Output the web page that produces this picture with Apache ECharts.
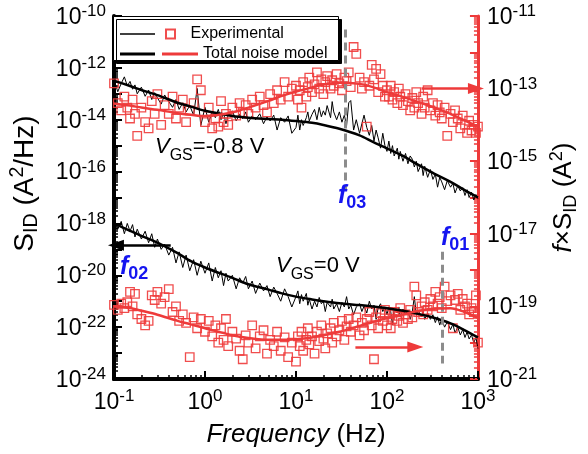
<!DOCTYPE html>
<html>
<head>
<meta charset="utf-8">
<script src="https://cdn.jsdelivr.net/npm/echarts@6/dist/echarts.min.js"></script>
<style>
html,body{margin:0;padding:0;background:#fff;}
#chart{width:588px;height:454px;}
</style>
</head>
<body>
<div id="chart"></div>
<script>
// ---------- data ----------
const freq = [
  0.1,0.11,0.12,0.13,0.14,0.15,0.16,0.17,0.18,0.2,0.22,0.24,0.26,0.28,0.3,0.33,0.36,0.4,0.44,0.48,0.52,0.57,0.62,0.68,0.75,0.82,0.9,
  1,1.1,1.2,1.3,1.4,1.5,1.6,1.7,1.8,2,2.2,2.4,2.6,2.8,3,3.3,3.6,4,4.4,4.8,5.2,5.7,6.2,6.8,7.5,8.2,9,
  10,10.5,11,11.5,12,13,13.5,14,15,16,17,18,19,20,21,22,24,25,26,28,30,32,34,36,38,40,43,46,50,53,56,60,64,68,72,76,80,85,90,95,
  100,105,110,115,120,130,135,140,150,160,170,180,190,200,210,220,240,250,260,280,300,320,340,360,380,400,430,460,500,530,560,600,640,680,720,760,800,850,900,950,1000
];
// S_ID, VGS = -0.8 V (A^2/Hz)
const sidNeg08 = [
  3.5e-13,1.2e-13,2.5e-13,4.5e-13,2.0e-13,3.0e-13,1.5e-13,2.2e-13,1.0e-13,1.8e-13,8.0e-14,1.4e-13,6.0e-14,1.1e-13,7.0e-14,4.0e-14,9.0e-14,5.0e-14,3.0e-14,6.0e-14,2.5e-14,4.5e-14,2.0e-14,3.5e-14,1.5e-14,1.6e-13,6.0e-15,
  3.0e-14,8.0e-15,2.0e-14,1.2e-14,2.5e-14,1.0e-14,1.8e-14,7.0e-15,1.5e-14,2.2e-14,9.0e-15,1.6e-14,1.1e-14,2.0e-14,8.0e-15,1.4e-14,1.0e-14,1.7e-14,7.0e-15,1.3e-14,9.0e-15,1.5e-14,4.0e-15,1.2e-14,8.0e-15,1.4e-14,3.0e-15,
  5.0e-15,1.5e-14,4.0e-15,1.0e-14,6.0e-15,1.2e-14,2.0e-14,9.0e-15,1.6e-14,2.5e-14,1.0e-14,3.0e-14,1.3e-14,2.2e-14,1.5e-14,3.5e-14,1.2e-14,5.0e-14,2.0e-14,1.0e-14,2.0e-14,8.0e-15,1.5e-14,6.0e-15,4.5e-14,5.5e-14,4.0e-15,1.0e-14,3.0e-15,7.0e-15,1.5e-14,5.0e-15,2.5e-15,6.0e-15,1.5e-15,4.0e-15,2.0e-15,8.0e-16,3.0e-15,1.0e-15,
  6.0e-16,1.5e-15,5.0e-16,1.0e-15,4.0e-16,8.0e-16,3.0e-16,6.0e-16,2.5e-16,5.0e-16,2.0e-16,4.0e-16,3.0e-16,1.5e-16,2.5e-16,1.0e-16,2.0e-16,7.0e-17,1.6e-16,6.0e-17,1.2e-16,5.0e-17,8.0e-17,2.5e-17,6.0e-17,4.0e-17,2.0e-17,4.5e-17,2.5e-17,3.5e-17,1.5e-17,2.8e-17,1.8e-17,2.4e-17,1.2e-17,2.0e-17,1.0e-17,1.6e-17,8.0e-18,1.3e-17,9.0e-18
];
// S_ID, VGS = 0 V (A^2/Hz)
const sid0 = [
  1.5e-18,6.0e-19,1.2e-18,4.0e-19,1.0e-18,5.0e-19,9.0e-19,3.0e-19,6.0e-19,2.5e-19,5.0e-19,1.8e-19,4.0e-19,1.2e-19,2.5e-19,1.0e-19,1.6e-19,6.0e-20,1.2e-19,3.0e-20,8.0e-20,2.0e-20,6.0e-20,1.5e-20,4.0e-20,1.0e-20,3.5e-20,
  1.2e-20,3.0e-20,6.0e-21,2.0e-20,8.0e-21,1.5e-20,4.0e-21,1.2e-20,6.0e-21,1.0e-20,3.0e-21,8.0e-21,5.0e-21,9.0e-21,3.0e-21,6.0e-21,2.0e-21,5.0e-21,2.5e-21,4.0e-21,1.5e-21,3.5e-21,2.0e-21,1.0e-21,3.0e-21,1.5e-21,6.0e-22,
  1.5e-21,2.5e-21,8.0e-22,1.8e-21,1.0e-21,2.0e-21,7.0e-22,1.2e-21,5.0e-22,1.0e-21,6.0e-22,1.4e-21,8.0e-22,1.0e-21,4.0e-22,9.0e-22,6.0e-22,1.2e-21,5.0e-22,8.0e-22,4.0e-22,9.0e-22,6.0e-22,1.5e-21,5.0e-22,7.0e-22,3.0e-22,6.0e-22,8.0e-22,4.0e-22,6.5e-22,3.5e-22,1.0e-21,5.0e-22,7.0e-22,2.0e-22,5.5e-22,8.0e-22,4.0e-22,6.0e-22,
  3.0e-22,6.0e-22,4.0e-22,1.2e-22,5.0e-22,3.5e-22,6.0e-22,2.5e-22,5.0e-22,3.0e-22,4.5e-22,2.0e-22,4.0e-22,1.5e-21,3.0e-22,4.5e-22,2.5e-22,4.0e-22,2.0e-22,3.5e-22,2.0e-22,3.0e-22,1.5e-22,2.5e-22,1.2e-22,2.0e-22,1.0e-22,1.6e-22,8.0e-23,1.3e-22,6.0e-23,1.0e-22,5.0e-23,8.0e-23,4.0e-23,6.5e-23,3.5e-23,5.0e-23,2.5e-23,4.0e-23,1.5e-23
];
// f x S_ID, VGS = -0.8 V (A^2)
const fSidNeg08 = [
  1.4e-13,4.0e-14,2.5e-14,6.0e-14,3.0e-14,1.5e-14,5.0e-14,2.0e-14,5.0e-15,3.0e-14,1.2e-14,8.0e-15,4.5e-14,2.0e-14,7.0e-14,1.0e-14,3.5e-14,2.0e-14,6.0e-14,1.5e-14,3.0e-14,5.0e-14,1.2e-14,2.5e-14,4.0e-14,1.8e-13,9.0e-14,
  1.2e-14,3.0e-14,8.0e-15,1.5e-14,9.0e-15,4.5e-14,1.2e-14,2.0e-14,1.0e-14,3.0e-14,1.8e-14,4.0e-14,2.2e-14,3.5e-14,2.0e-14,5.0e-14,3.0e-14,6.0e-14,3.5e-14,2.2e-14,7.0e-14,4.0e-14,9.0e-14,5.0e-14,1.5e-13,6.0e-14,1.0e-13,
  1.2e-13,5.0e-14,9.0e-14,3.0e-14,1.5e-13,6.0e-14,1.1e-13,2.0e-13,8.0e-14,1.3e-13,2.8e-13,1.0e-13,1.8e-13,7.0e-14,1.5e-13,2.2e-13,1.0e-13,1.7e-13,1.2e-13,2.5e-13,1.4e-13,9.0e-14,2.0e-13,1.6e-13,2.8e-13,1.1e-13,1.4e-12,9.0e-13,2.0e-13,1.0e-13,1.5e-13,9.0e-15,1.2e-13,4.5e-13,1.8e-13,3.5e-13,8.0e-14,2.5e-13,1.2e-13,6.0e-14,
  9.0e-14,6.0e-14,1.2e-13,5.0e-14,8.0e-14,4.0e-14,1.0e-13,6.0e-14,3.5e-14,7.0e-14,4.5e-14,2.5e-14,5.5e-14,3.0e-14,8.0e-14,4.0e-14,2.0e-14,6.0e-14,3.0e-14,9.0e-14,2.5e-14,4.0e-14,1.8e-14,3.5e-14,2.2e-14,1.5e-14,3.0e-14,5.0e-15,2.0e-14,1.2e-14,2.5e-14,1.5e-14,8.0e-15,1.8e-14,1.0e-14,6.0e-15,1.3e-14,7.0e-15,1.0e-14,6.0e-15,9.0e-15
];
// f x S_ID, VGS = 0 V (A^2)
const fSid0 = [
  1.1e-19,8.0e-20,1.2e-19,9.0e-20,1.3e-19,2.5e-19,1.0e-19,2.2e-19,6.0e-20,4.5e-20,3.0e-20,4.0e-20,2.0e-19,1.5e-19,2.5e-19,1.2e-19,1.8e-19,3.0e-19,7.0e-20,1.0e-19,4.0e-20,6.0e-20,3.5e-20,4.0e-21,5.0e-20,2.5e-20,4.5e-20,
  2.0e-20,4.0e-20,1.5e-20,3.0e-20,1.0e-20,2.5e-20,1.2e-20,4.5e-20,8.0e-21,2.0e-20,1.3e-20,6.0e-21,3.5e-21,1.6e-20,1.0e-20,3.0e-20,7.0e-21,1.5e-20,2.2e-20,5.0e-21,1.2e-20,8.0e-21,2.0e-20,6.0e-21,1.4e-20,4.0e-21,1.0e-20,
  3.0e-21,1.5e-20,8.0e-21,2.0e-20,6.0e-21,1.2e-20,2.5e-20,9.0e-21,1.5e-20,5.0e-21,2.0e-20,1.1e-20,3.0e-20,1.3e-20,7.0e-21,1.8e-20,2.5e-20,1.0e-20,3.5e-20,1.5e-20,2.2e-20,4.0e-20,1.2e-20,2.8e-20,4.5e-20,2.0e-20,3.0e-20,5.0e-20,1.6e-20,3.5e-20,2.2e-20,4.5e-20,7.0e-20,3.0e-20,3.5e-21,5.0e-20,2.5e-20,6.5e-20,4.0e-20,8.0e-20,
  3.0e-20,6.0e-20,2.5e-20,4.5e-20,7.0e-20,4.0e-20,5.5e-20,9.0e-20,3.5e-20,6.0e-20,4.5e-20,8.0e-20,5.0e-20,3.5e-19,2.0e-19,7.0e-20,1.0e-19,6.0e-20,1.3e-19,8.0e-20,1.6e-19,1.0e-19,2.5e-19,1.2e-19,1.8e-19,9.0e-20,3.5e-19,1.4e-19,2.0e-19,2.5e-20,1.5e-19,2.2e-19,8.0e-20,1.6e-19,1.0e-19,1.2e-19,6.0e-20,9.0e-20,7.0e-20,2.0e-19,1.0e-20
];
// total noise model curves
const fitFreq = [0.1,0.15,0.2,0.3,0.5,0.7,1,2,3,5,7,10,15,20,30,50,70,100,150,200,300,500,700,1000];
const fitSidNeg08 = [3.2e-13,2.0e-13,1.4e-13,8.9e-14,4.5e-14,3.2e-14,2.2e-14,1.4e-14,1.2e-14,1.07e-14,1.0e-14,8.9e-15,7.6e-15,6.3e-15,4.5e-15,2.5e-15,1.4e-15,7.9e-16,4.0e-16,2.2e-16,1.0e-16,4.0e-17,2.0e-17,1.0e-17];
const fitFSidNeg08 = [3.9e-14,3.4e-14,3.0e-14,2.6e-14,2.1e-14,1.9e-14,1.75e-14,2.2e-14,3.0e-14,4.6e-14,6.3e-14,8.3e-14,1.08e-13,1.3e-13,1.45e-13,1.35e-13,1.1e-13,8.0e-14,5.9e-14,4.6e-14,3.3e-14,2.0e-14,1.35e-14,9.0e-15];
const fitSid0 = [1.0e-18,5.2e-19,3.3e-19,1.8e-19,7.1e-20,3.5e-20,2.0e-20,7.9e-21,4.5e-21,2.8e-21,2.0e-21,1.5e-21,1.17e-21,1.0e-21,8.3e-22,7.1e-22,6.3e-22,5.4e-22,4.3e-22,3.5e-22,2.5e-22,1.4e-22,7.9e-23,4.0e-23];
const fitFSid0 = [1.0e-19,9.0e-20,7.6e-20,5.9e-20,4.0e-20,3.2e-20,2.5e-20,1.6e-20,1.35e-20,1.2e-20,1.2e-20,1.25e-20,1.4e-20,1.6e-20,2.0e-20,2.9e-20,3.7e-20,4.8e-20,6.0e-20,7.1e-20,8.5e-20,8.9e-20,7.1e-20,4.8e-20];

// tick values
const xMajor = [0.1,1,10,100,1000];
const xMinor = [0.2,0.3,0.4,0.5,0.6,0.7,0.8,0.9,2,3,4,5,6,7,8,9,20,30,40,50,60,70,80,90,200,300,400,500,600,700,800,900];
const yLeftLabels = [1e-24,1e-22,1e-20,1e-18,1e-16,1e-14,1e-12,1e-10];
const yLeftTicks = [1e-24,1e-23,1e-22,1e-21,1e-20,1e-19,1e-18,1e-17,1e-16,1e-15,1e-14,1e-13,1e-12,1e-11,1e-10];
const yRightLabels = [1e-21,1e-19,1e-17,1e-15,1e-13,1e-11];
const yRightTicks = [1e-21,1e-20,1e-19,1e-18,1e-17,1e-16,1e-15,1e-14,1e-13,1e-12,1e-11];
const mant = [2,3,4,5,6,7,8,9];
const yLeftMinor = [];
yLeftTicks.slice(0,-1).forEach(d => mant.forEach(m => yLeftMinor.push(+(m*d).toPrecision(3))));
const yRightMinor = [];
yRightTicks.slice(0,-1).forEach(d => mant.forEach(m => yRightMinor.push(+(m*d).toPrecision(3))));

// annotation anchors (data coordinates)
const f03Line = [[35, 3e-11], [35, 2e-17]];
const f01Line = [[410, 8e-20], [410, 4e-24]];
const arrowLeft0 = [[0.42, 1.45e-19], [0.105, 1.45e-19]];
const arrowRight08 = [[240, 1e-13], [950, 1e-13]];
const arrowRight0 = [[45, 7.6e-21], [205, 7.6e-21]];

// ---------- chart ----------
const F = '"Liberation Sans", Arial, Helvetica, sans-serif';
const RED = '#ee3a3a';
const zip = (xs, ys) => xs.map((x, i) => [x, ys[i]]);
const supFmt = v => '{b|10}{s|' + Math.round(Math.log10(v)) + '}';
const tickRich = {
  b: {fontSize: 23, fontFamily: F, color: '#000', lineHeight: 26, verticalAlign: 'bottom'},
  s: {fontSize: 17, fontFamily: F, color: '#000', verticalAlign: 'top'}
};
const titleRich = (size) => ({
  n: {fontSize: size, fontFamily: F, color: '#000', lineHeight: size + 6},
  i: {fontSize: size, fontFamily: F, color: '#000', fontStyle: 'italic', lineHeight: size + 6},
  sub: {fontSize: size * 0.7, fontFamily: F, color: '#000', verticalAlign: 'bottom'},
  sup: {fontSize: size * 0.7, fontFamily: F, color: '#000', verticalAlign: 'top'}
});
function arrowLine(pts, color) {
  return {
    silent: true, animation: false,
    symbol: ['none', 'triangle'], symbolSize: 12,
    label: {show: false},
    itemStyle: {color: color},
    lineStyle: {color: color, width: 2.5, type: 'solid'},
    data: [[{coord: pts[0]}, {coord: pts[1], symbolSize: [11, 16]}]]
  };
}
function dashLine(pts) {
  return {
    silent: true, animation: false,
    symbol: ['none', 'none'],
    label: {show: false},
    lineStyle: {color: '#8c8c8c', width: 3, type: [8, 5]},
    data: [[{coord: pts[0]}, {coord: pts[1]}]]
  };
}
const vRich = {
  v: {fontSize: 22, fontFamily: F, fontStyle: 'italic', fill: '#000', lineHeight: 28, verticalAlign: 'top'},
  g: {fontSize: 16, fontFamily: F, fill: '#000', verticalAlign: 'bottom'},
  t: {fontSize: 22, fontFamily: F, fill: '#000', lineHeight: 28, verticalAlign: 'top'}
};
const fRich = {
  f: {fontSize: 25, fontFamily: F, fontStyle: 'italic', fontWeight: 'bold', fill: '#1515f0', lineHeight: 28, verticalAlign: 'top'},
  n: {fontSize: 18, fontFamily: F, fontWeight: 'bold', fill: '#1515f0', verticalAlign: 'bottom'}
};
const legendText = {fontSize: 16, lineHeight: 16, fontFamily: F, color: '#000'};
const legendBase = {orient: 'vertical', selectedMode: false, z: 10, itemGap: 4, textStyle: legendText};

const chart = echarts.init(document.getElementById('chart'), null, {renderer: 'canvas'});
const option = {
  animation: false,
  backgroundColor: '#fff',
  grid: {left: 113, right: 100, top: 16, bottom: 75},
  legend: [
    Object.assign({}, legendBase, {id: 'lg1', left: 115, top: 21, itemWidth: 35, itemHeight: 1.3, formatter: () => ' ',
      data: [{name: 'Experimental (S_ID)', icon: 'rect'}]}),
    Object.assign({}, legendBase, {id: 'lg2', left: 115, top: 41, itemWidth: 35, itemHeight: 3, formatter: () => ' ',
      data: [{name: 'Total noise model (S_ID)', icon: 'rect'}]}),
    Object.assign({}, legendBase, {id: 'lg3', left: 160, top: 21, itemWidth: 30, itemHeight: 9,
      data: [{name: 'Experimental', icon: 'path://M0,0L10,0L10,10L0,10Z'}]}),
    Object.assign({}, legendBase, {id: 'lg4', left: 157, top: 41, itemWidth: 36, itemHeight: 3,
      data: [{name: 'Total noise model', icon: 'rect'}]})
  ],
  xAxis: [
    {type: 'log', logBase: 10, min: 0.1, max: 1000, position: 'bottom',
     axisLine: {lineStyle: {color: '#000', width: 4}},
     axisTick: {inside: true, length: 8, lineStyle: {color: '#000', width: 2}, customValues: xMajor},
     axisLabel: {customValues: xMajor, formatter: supFmt, rich: tickRich, margin: 9},
     splitLine: {show: false}, minorTick: {show: false},
     name: '{i|Frequency}{n| (Hz)}', nameLocation: 'middle', nameGap: 40,
     nameTextStyle: {rich: titleRich(26)}},
    {type: 'log', logBase: 10, min: 0.1, max: 1000, position: 'bottom',
     axisLine: {show: false}, axisLabel: {show: false}, splitLine: {show: false},
     axisTick: {inside: true, length: 4, lineStyle: {color: '#000', width: 1.5}, customValues: xMinor}},
    {type: 'log', logBase: 10, min: 0.1, max: 1000, position: 'top',
     axisLine: {lineStyle: {color: '#000', width: 4}}, axisTick: {show: false},
     axisLabel: {show: false}, splitLine: {show: false}}
  ],
  yAxis: [
    {type: 'log', logBase: 10, min: 1e-24, max: 1e-10, position: 'left',
     axisLine: {lineStyle: {color: '#000', width: 4}},
     axisTick: {inside: true, length: 8, lineStyle: {color: '#000', width: 2}, customValues: yLeftTicks},
     axisLabel: {customValues: yLeftLabels, formatter: supFmt, rich: tickRich, margin: 8},
     splitLine: {show: false},
     name: '{n|S}{sub|ID}{n| (A}{sup|2}{n|/Hz)}', nameLocation: 'middle', nameGap: 72, nameRotate: 90,
     nameTextStyle: {rich: titleRich(28), padding: [0, 0, 0, 28]}},
    {type: 'log', logBase: 10, min: 1e-24, max: 1e-10, position: 'left',
     axisLine: {show: false}, axisLabel: {show: false}, splitLine: {show: false},
     axisTick: {inside: true, length: 4, lineStyle: {color: '#000', width: 1.5}, customValues: yLeftMinor}},
    {type: 'log', logBase: 10, min: 1e-21, max: 1e-11, position: 'right',
     axisLine: {lineStyle: {color: RED, width: 3}},
     axisTick: {inside: true, length: 8, lineStyle: {color: RED, width: 2}, customValues: yRightTicks},
     axisLabel: {customValues: yRightLabels, formatter: supFmt, rich: tickRich, margin: 9},
     splitLine: {show: false},
     name: '{i|f}{n|×S}{sub|ID}{n| (A}{sup|2}{n|)}', nameLocation: 'middle', nameGap: 68, nameRotate: 90,
     nameTextStyle: {rich: titleRich(26)}},
    {type: 'log', logBase: 10, min: 1e-21, max: 1e-11, position: 'right',
     axisLine: {show: false}, axisLabel: {show: false}, splitLine: {show: false},
     axisTick: {inside: true, length: 4, lineStyle: {color: RED, width: 1.5}, customValues: yRightMinor}}
  ],
  series: [
    {name: 'Experimental (S_ID)', type: 'line', xAxisIndex: 0, yAxisIndex: 0, data: zip(freq, sidNeg08),
     symbol: 'none', lineStyle: {color: '#000', width: 1}, itemStyle: {color: '#000'}, z: 2},
    {name: 'Experimental (S_ID)', type: 'line', xAxisIndex: 0, yAxisIndex: 0, data: zip(freq, sid0),
     symbol: 'none', lineStyle: {color: '#000', width: 1}, itemStyle: {color: '#000'}, z: 2,
     markLine: arrowLine(arrowLeft0, '#000')},
    {name: 'Experimental', type: 'scatter', xAxisIndex: 0, yAxisIndex: 2, data: zip(freq, fSidNeg08),
     symbol: 'rect', symbolSize: 8.5,
     itemStyle: {color: 'rgba(255,255,255,0)', borderColor: RED, borderWidth: 1.3, opacity: 0.9}, z: 3},
    {name: 'Experimental', type: 'scatter', xAxisIndex: 0, yAxisIndex: 2, data: zip(freq, fSid0),
     symbol: 'rect', symbolSize: 8.5,
     itemStyle: {color: 'rgba(255,255,255,0)', borderColor: RED, borderWidth: 1.3, opacity: 0.9}, z: 3},
    {name: 'Total noise model (S_ID)', type: 'line', xAxisIndex: 0, yAxisIndex: 0, data: zip(fitFreq, fitSidNeg08),
     symbol: 'none', smooth: 0.3, lineStyle: {color: '#000', width: 2.5}, itemStyle: {color: '#000'}, z: 4,
     markLine: dashLine(f03Line)},
    {name: 'Total noise model (S_ID)', type: 'line', xAxisIndex: 0, yAxisIndex: 0, data: zip(fitFreq, fitSid0),
     symbol: 'none', smooth: 0.3, lineStyle: {color: '#000', width: 2.5}, itemStyle: {color: '#000'}, z: 4,
     markLine: dashLine(f01Line)},
    {name: 'Total noise model', type: 'line', xAxisIndex: 0, yAxisIndex: 2, data: zip(fitFreq, fitFSidNeg08),
     symbol: 'none', smooth: 0.3, lineStyle: {color: RED, width: 2.5}, itemStyle: {color: RED}, z: 5,
     markLine: arrowLine(arrowRight08, RED)},
    {name: 'Total noise model', type: 'line', xAxisIndex: 0, yAxisIndex: 2, data: zip(fitFreq, fitFSid0),
     symbol: 'none', smooth: 0.3, lineStyle: {color: RED, width: 2.5}, itemStyle: {color: RED}, z: 5,
     markLine: arrowLine(arrowRight0, RED)}
  ],
  graphic: [
    {type: 'rect', left: 113, top: 16, z: 6,
     shape: {width: 225, height: 44},
     style: {fill: '#fff', stroke: '#000', lineWidth: 1, shadowBlur: 0, shadowOffsetX: 3, shadowOffsetY: 3, shadowColor: '#000'}},
    {type: 'text', left: 155, top: 136, z: 20, style: {text: '{v|V}{g|GS}{t|=-0.8 V}', rich: vRich}},
    {type: 'text', left: 276, top: 255, z: 20, style: {text: '{v|V}{g|GS}{t|=0 V}', rich: vRich}},
    {type: 'text', left: 338, top: 184, z: 20, style: {text: '{f|f}{n|03}', rich: fRich}},
    {type: 'text', left: 441, top: 226, z: 20, style: {text: '{f|f}{n|01}', rich: fRich}},
    {type: 'text', left: 120, top: 255, z: 20, style: {text: '{f|f}{n|02}', rich: fRich}}
  ]
};
chart.setOption(option);
</script>
</body>
</html>
